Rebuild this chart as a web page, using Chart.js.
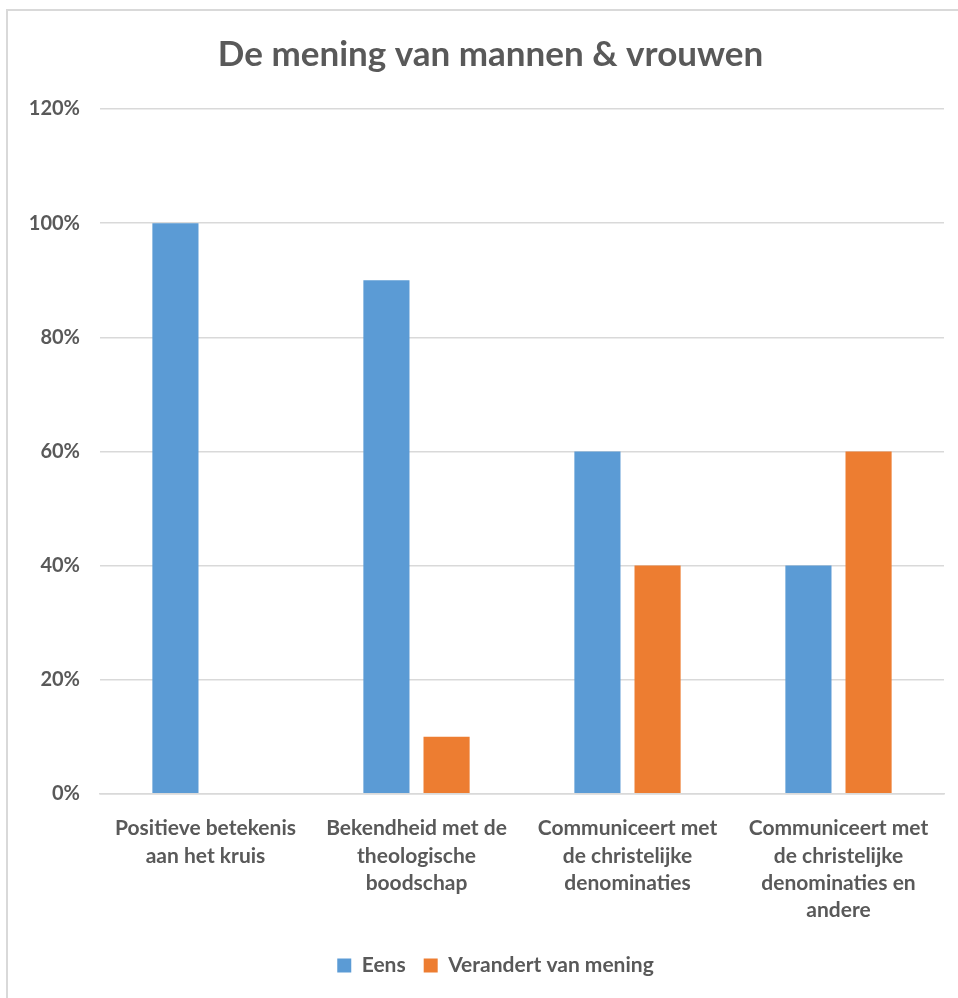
<!DOCTYPE html>
<html>
<head>
<meta charset="utf-8">
<script src="https://cdn.jsdelivr.net/npm/chart.js@4.4.0/dist/chart.umd.min.js"></script>
<style>
    html, body { margin: 0; padding: 0; background: #fff; }
    #wrap { position: relative; width: 958px; height: 998px; overflow: hidden; }
    #frame { position: absolute; left: 6px; top: 9px; width: 980px; height: 1020px; border: 2px solid #d9d9d9; box-sizing: border-box; }
    canvas { position: absolute; left: 0; top: 0; }
</style>
</head>
<body>
<div id="wrap">
    <div id="frame"></div>
    <canvas id="chart" width="958" height="998"></canvas>
</div>
<script>
// Categorieën en waarden
const categories = [
    ['Positieve betekenis', 'aan het kruis'],
    ['Bekendheid met de', 'theologische', 'boodschap'],
    ['Communiceert met', 'de christelijke', 'denominaties'],
    ['Communiceert met', 'de christelijke', 'denominaties en', 'andere']
];
const eens = [1.0, 0.9, 0.6, 0.4];
const verandert = [0, 0.1, 0.4, 0.6];
const seriesNames = ['Eens', 'Verandert van mening'];
const yTicks = [0, 0.2, 0.4, 0.6, 0.8, 1.0, 1.2];

const textColor = '#595959';
const fontFamily = "Lato, 'Open Sans', sans-serif";

// Titel en legenda iets naar rechts schuiven (zoals in Excel, gecentreerd op de grafiek)
const shiftBoxes = {
    id: 'shiftBoxes',
    afterLayout: function(chart) {
        if (chart.titleBlock) {
            chart.titleBlock.left += 14;
            chart.titleBlock.right += 14;
        }
        if (chart.legend) {
            chart.legend.left += 19;
            chart.legend.right += 19;
        }
    }
};

document.addEventListener('DOMContentLoaded', function() {
    const ctx = document.getElementById('chart').getContext('2d');
    new Chart(ctx, {
        type: 'bar',
        data: {
            labels: categories,
            datasets: [{
                label: seriesNames[0],
                data: eens,
                backgroundColor: '#5B9BD5'
            }, {
                label: seriesNames[1],
                data: verandert,
                backgroundColor: '#ED7D31'
            }]
        },
        options: {
            responsive: false,
            animation: false,
            layout: { padding: { left: 9, right: 14, top: 10, bottom: 12 } },
            categoryPercentage: 0.57,
            barPercentage: 0.767,
            plugins: {
                title: {
                    display: true,
                    text: 'De mening van mannen & vrouwen',
                    color: textColor,
                    font: { family: fontFamily, size: 35, weight: 'bold', lineHeight: 1.2 },
                    padding: { top: 24, bottom: 33 }
                },
                legend: {
                    position: 'bottom',
                    labels: {
                        color: textColor,
                        font: { family: fontFamily, size: 21, weight: 'bold' },
                        boxWidth: 14,
                        boxHeight: 14,
                        padding: 18
                    }
                },
                tooltip: { enabled: false }
            },
            scales: {
                x: {
                    grid: { display: false },
                    border: { display: true, color: '#d9d9d9', width: 1.5 },
                    ticks: {
                        color: textColor,
                        font: { family: fontFamily, size: 21, weight: 'bold', lineHeight: 1.3 },
                        maxRotation: 0,
                        padding: 13
                    }
                },
                y: {
                    min: 0,
                    max: 1.2,
                    afterBuildTicks: function(axis) {
                        axis.ticks = yTicks.map(v => ({ value: v }));
                    },
                    afterFit: function(axis) {
                        axis.width = 91;
                    },
                    grid: { color: '#d9d9d9', lineWidth: 1.5, drawTicks: false },
                    border: { display: false },
                    ticks: {
                        color: textColor,
                        font: { family: fontFamily, size: 20, weight: 'bold' },
                        padding: 20,
                        callback: function(value) {
                            return Math.round(value * 100) + '%';
                        }
                    }
                }
            }
        },
        plugins: [shiftBoxes]
    });
});
</script>
</body>
</html>
